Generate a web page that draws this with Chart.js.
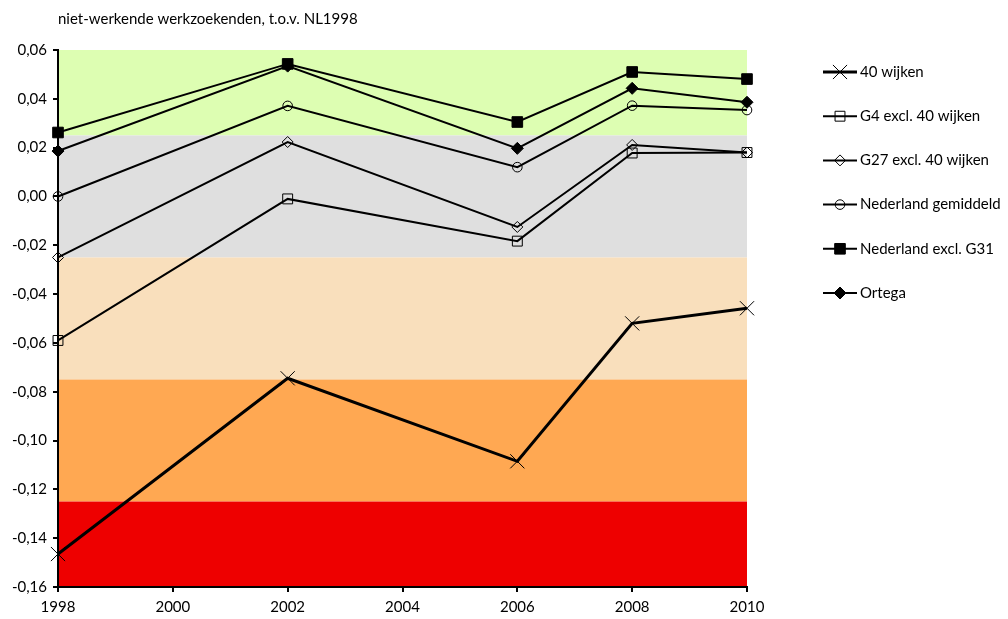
<!DOCTYPE html>
<html lang="nl">
<head>
    <meta charset="UTF-8">
    <title>Niet-werkende werkzoekenden</title>
    <script src="https://cdn.jsdelivr.net/npm/chart.js"></script>
    <style>
        html, body { margin: 0; padding: 0; background: #fff; }
        #wrap { width: 1008px; height: 619px; }
    </style>
</head>
<body>
    <div id="wrap"><canvas id="chartCanvas" width="1008" height="619"></canvas></div>

    <script>
        const years = [1998, 2002, 2006, 2008, 2010];
        const xTicks = [1998, 2000, 2002, 2004, 2006, 2008, 2010];
        const yTicks = [-0.16, -0.14, -0.12, -0.10, -0.08, -0.06, -0.04, -0.02, 0.00, 0.02, 0.04, 0.06];

        const wijken40 = [-0.1465, -0.0745, -0.1085, -0.0520, -0.0458];
        const g4 = [-0.0590, -0.0010, -0.0183, 0.0178, 0.0180];
        const g27 = [-0.0250, 0.0223, -0.0125, 0.0211, 0.0180];
        const nlGemiddeld = [0.0000, 0.0371, 0.0120, 0.0372, 0.0354];
        const nlExclG31 = [0.0262, 0.0543, 0.0305, 0.0510, 0.0481];
        const ortega = [0.0186, 0.0534, 0.0197, 0.0443, 0.0386];

        // achtergrondbanden: grenzen van boven naar beneden
        const bandEdges = [0.06, 0.025, -0.025, -0.075, -0.125, -0.16];
        const bandColors = ['#DDFEB2', '#DFDFDF', '#F9DFBC', '#FFA852', '#EE0000'];

        const FONT = 'Lato, "Open Sans", sans-serif';

        function series(label, values, style, radius, fill, width) {
            return {
                label: label,
                data: years.map((y, i) => ({ x: y, y: values[i] })),
                borderColor: '#000',
                borderWidth: width,
                pointStyle: style,
                pointRadius: radius,
                pointHoverRadius: radius,
                pointBorderWidth: 1,
                pointBorderColor: '#000',
                pointBackgroundColor: fill,
                tension: 0,
                clip: false
            };
        }

        const bandsPlugin = {
            id: 'bands',
            beforeDraw(chart) {
                const { ctx, chartArea, scales } = chart;
                ctx.save();
                for (let i = 0; i < bandColors.length; i++) {
                    const top = scales.y.getPixelForValue(bandEdges[i]);
                    const bottom = scales.y.getPixelForValue(bandEdges[i + 1]);
                    ctx.fillStyle = bandColors[i];
                    ctx.fillRect(chartArea.left, top, chartArea.right - chartArea.left, bottom - top);
                }
                ctx.restore();
            }
        };

        const titleLegendPlugin = {
            id: 'titleLegend',
            afterDraw(chart) {
                const { ctx, chartArea } = chart;
                ctx.save();
                ctx.fillStyle = '#000';
                ctx.font = '15px ' + FONT;
                ctx.textBaseline = 'middle';
                ctx.textAlign = 'left';
                ctx.fillText('niet-werkende werkzoekenden, t.o.v. NL1998', chartArea.left, 19);

                const x0 = 823, x1 = 857, top = 72, step = 44.2;
                chart.data.datasets.forEach((ds, i) => {
                    const y = top + i * step;
                    ctx.strokeStyle = '#000';
                    ctx.lineWidth = ds.borderWidth;
                    ctx.beginPath();
                    ctx.moveTo(x0, y);
                    ctx.lineTo(x1, y);
                    ctx.stroke();
                    ctx.lineWidth = 1;
                    ctx.fillStyle = ds.pointBackgroundColor;
                    Chart.helpers.drawPoint(ctx, {
                        pointStyle: ds.pointStyle,
                        radius: ds.pointRadius,
                        rotation: 0,
                        borderWidth: 1
                    }, (x0 + x1) / 2, y);
                    ctx.fillStyle = '#000';
                    ctx.fillText(ds.label, 860, y);
                });
                ctx.restore();
            }
        };

        const ctx = document.getElementById('chartCanvas').getContext('2d');
        const chart = new Chart(ctx, {
            type: 'line',
            data: {
                datasets: [
                    series('40 wijken', wijken40, 'crossRot', 10, 'rgba(0,0,0,0)', 3),
                    series('G4 excl. 40 wijken', g4, 'rect', 7, 'rgba(0,0,0,0)', 2),
                    series('G27 excl. 40 wijken', g27, 'rectRot', 5.5, 'rgba(0,0,0,0)', 2),
                    series('Nederland gemiddeld', nlGemiddeld, 'circle', 4.8, 'rgba(0,0,0,0)', 2),
                    series('Nederland excl. G31', nlExclG31, 'rect', 7.5, '#000', 2),
                    series('Ortega', ortega, 'rectRot', 6, '#000', 2)
                ]
            },
            options: {
                responsive: false,
                animation: false,
                events: [],
                layout: { padding: { top: 50, right: 261, left: 0, bottom: 0 } },
                plugins: {
                    legend: { display: false },
                    tooltip: { enabled: false },
                    title: { display: false }
                },
                scales: {
                    x: {
                        type: 'linear',
                        min: 1998,
                        max: 2010,
                        afterBuildTicks: (scale) => { scale.ticks = xTicks.map(v => ({ value: v })); },
                        afterFit: (scale) => { scale.height = 32; },
                        border: { display: true, color: '#000', width: 2 },
                        grid: { drawOnChartArea: false, drawTicks: true, tickLength: 5, color: '#000', lineWidth: 2 },
                        ticks: {
                            color: '#000',
                            font: { family: FONT, size: 15 },
                            padding: 6,
                            maxRotation: 0,
                            callback: (v) => String(v)
                        }
                    },
                    y: {
                        min: -0.16,
                        max: 0.06,
                        afterBuildTicks: (scale) => { scale.ticks = yTicks.map(v => ({ value: v })); },
                        afterFit: (scale) => { scale.width = 58; },
                        border: { display: true, color: '#000', width: 2 },
                        grid: { drawOnChartArea: false, drawTicks: true, tickLength: 5, color: '#000', lineWidth: 2 },
                        ticks: {
                            color: '#000',
                            font: { family: FONT, size: 15 },
                            padding: 6,
                            callback: (v) => v.toFixed(2).replace('.', ',')
                        }
                    }
                }
            },
            plugins: [bandsPlugin, titleLegendPlugin]
        });
    </script>
</body>
</html>
